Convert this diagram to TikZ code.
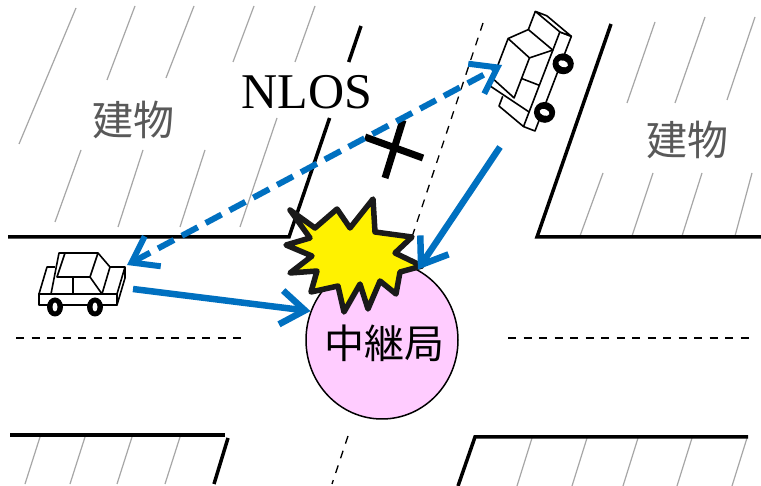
\documentclass[tikz,border=0pt]{standalone}
\usepackage{fontspec}
\setmainfont{Liberation Serif}
\newfontfamily\jpfont{Noto Sans CJK JP}
\usetikzlibrary{arrows.meta,shapes.geometric}

\definecolor{sigblue}{HTML}{0070C0}
\definecolor{relaypink}{HTML}{FFCCFF}
\definecolor{hatchgray}{HTML}{A6A6A6}
\definecolor{textgray}{HTML}{595959}
\definecolor{burstedge}{HTML}{1A1A1A}

\begin{document}
\begin{tikzpicture}[x=1pt, y=-1pt,
    hatch/.style={hatchgray, line width=1.2pt},
    curb/.style={black, line width=3.5pt, line join=miter},
    lane/.style={black, line width=1.3pt, dash pattern=on 8pt off 7.5pt},
    link/.style={sigblue, line width=6.5pt, -{Straight Barb[length=24pt,width=34pt]}},
    dlink/.style={sigblue, line width=6pt, dash pattern=on 18pt off 9pt,
      {Straight Barb[length=24pt,width=34pt]}-{Straight Barb[length=24pt,width=34pt]}},
    carline/.style={black, line width=1.6pt, line join=round},
    bldgtext/.style={font=\jpfont\fontsize{41}{41}\selectfont, text=textgray, inner sep=0pt},
    relaytext/.style={font=\jpfont\fontsize{40}{40}\selectfont, inner sep=0pt},
    nlostext/.style={font=\fontsize{50}{50}\selectfont, inner sep=0pt},
    relay/.style={ellipse, draw=black, line width=1.5pt, fill=relaypink,
      minimum width=152pt, minimum height=158pt, inner sep=0pt},
    car/.pic={
      % Unterbau
      \filldraw[carline, fill=white] (0,0) -- (78,0) -- (78,-11) -- (0,-11) -- cycle;
      \filldraw[carline, fill=white] (78,0) -- (86,-27) -- (86,-38) -- (78,-11) -- cycle;
      \draw[carline] (0,-11) -- (8,-38) -- (16,-38);
      \draw[carline] (71,-38) -- (86,-38);
      % Kabine
      \draw[carline] (18,-28) -- (26,-52) -- (59,-52) -- (51,-28) -- cycle;
      \draw[carline] (12,-11) -- (20,-52) -- (26,-52);
      \draw[carline] (59,-52) -- (71,-38) -- (63,-11) -- (51,-28);
      \draw[carline] (34,-28) -- (34,-11);
      % Raeder
      \foreach \wx in {16,56} {
        \fill (\wx,2) ellipse [x radius=8pt, y radius=9.5pt];
        \fill[white] (\wx,2) ellipse [x radius=2.5pt, y radius=4.5pt];
      }
    }
  ]
  \fill[white] (0,0) rectangle (761,486);
  \useasboundingbox (0,0) rectangle (761,486);

  % Schraffur der Gebaeude
  \foreach \xa/\ya/\xb/\yb in {76/8/19/144, 135/6/107/80, 81/150/55/222,
      194/6/166/78, 143/150/118/227, 254/6/233/62, 205/150/180/227,
      315/6/295/62, 277/118/240/227}
    \draw[hatch] (\xa,\ya) -- (\xb,\yb);
  \foreach \xa/\ya/\xb/\yb in {655/22/627/103, 603/173/580/236,
      705/17/675/103, 653/173/632/236, 755/17/727/100, 702/173/682/236,
      752/173/735/236}
    \draw[hatch] (\xa,\ya) -- (\xb,\yb);
  \foreach \xa in {40,85,132,180}
    \draw[hatch] (\xa,437) -- ({\xa-15},484);
  \foreach \xa in {532,587,638,692,747}
    \draw[hatch] (\xa,438) -- ({\xa-15},486);

  % Fahrbahnraender
  \draw[curb] (8,237) -- (289,237) -- (329.6,118);
  \draw[curb] (348.7,62) -- (361,26);
  \draw[curb] (611,24) -- (537,237) -- (761,237);
  \draw[curb] (10,435) -- (225,435);
  \draw[curb] (228,438) -- (214,484);
  \draw[curb] (458,486) -- (475,437) -- (748,437);

  % Mittellinien
  \draw[lane] (16,338) -- (248,338);
  \draw[lane] (508,338) -- (753,338);
  \draw[lane] (483,23) -- (412,237);
  \draw[lane] (348,436) -- (332,484);

  % Relaisstation
  \node[relay] (relay) at (382,340) {};
  \node[relaytext] (relaylabel) at (384,343) {中継局};

  % Kollision
  \filldraw[fill=yellow, draw=burstedge, line width=5.5pt, line join=round]
    (290,210) -- (315,228) -- (337,209) -- (350,228) -- (373,199) -- (375,232)
    -- (412,237) -- (395,253) -- (422,266) -- (400,272) -- (396,294) -- (380,281)
    -- (368,309) -- (360,284) -- (344,312) -- (338,286) -- (311,292) -- (317,271)
    -- (290,273) -- (312,256) -- (286,245) -- (310,238) -- cycle;

  % Beschriftungen
  \node[bldgtext] (bldgL) at (133,120) {建物};
  \node[bldgtext] (bldgR) at (687,140) {建物};
  \node[nlostext] (nlos) at (307,92) {NLOS};

  % Fahrzeuge
  \pic at (39,305) {car};
  \pic[rotate=69, xscale=1.3, yscale=1.12] at (535,131) {car};

  \coordinate (carLtip) at (127,265);
  \coordinate (carLout) at (133,289);
  \coordinate (carRtip) at (502,65);
  \coordinate (carRout) at (500,147);

  % Blockierte Sichtverbindung
  \draw[black, line width=7pt] (365,137) -- (423,158);
  \draw[black, line width=7pt] (403,120) -- (385,178);

  % Signale
  \draw[dlink] (carLtip) -- (carRtip);
  \draw[link] (carLout) -- (relay.158);
  \draw[link] (carRout) -- (relay.63);
\end{tikzpicture}
\end{document}
